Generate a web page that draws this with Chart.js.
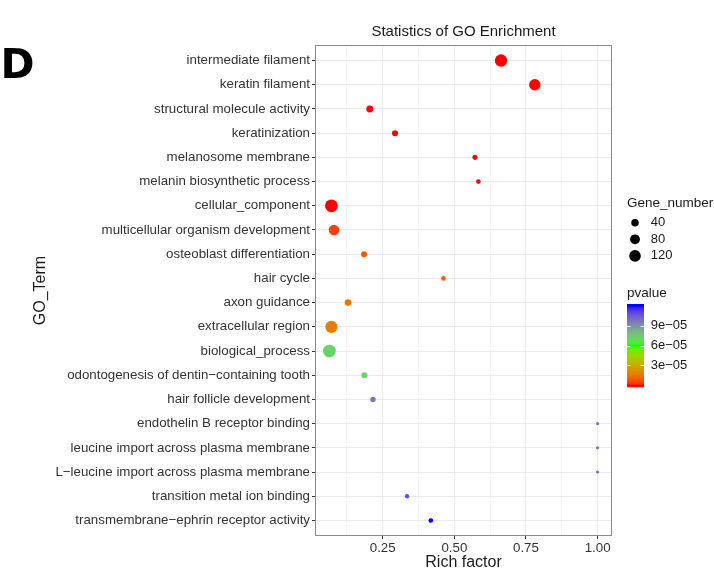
<!DOCTYPE html>
<html lang="en">
<head>
<meta charset="UTF-8">
<title>Statistics of GO Enrichment</title>
<script src="https://cdn.jsdelivr.net/npm/chart.js"></script>
<style>
  html, body { margin: 0; padding: 0; background: #ffffff; }
  #wrap { width: 714px; height: 583px; position: relative; }
</style>
</head>
<body>
<div id="wrap"><canvas id="goChart"></canvas></div>
<script>
// GO terms, top to bottom
const terms = [
  'intermediate filament',
  'keratin filament',
  'structural molecule activity',
  'keratinization',
  'melanosome membrane',
  'melanin biosynthetic process',
  'cellular_component',
  'multicellular organism development',
  'osteoblast differentiation',
  'hair cycle',
  'axon guidance',
  'extracellular region',
  'biological_process',
  'odontogenesis of dentin\u2212containing tooth',
  'hair follicle development',
  'endothelin B receptor binding',
  'leucine import across plasma membrane',
  'L\u2212leucine import across plasma membrane',
  'transition metal ion binding',
  'transmembrane\u2212ephrin receptor activity'
];
const richFactor = [0.663, 0.781, 0.205, 0.293, 0.572, 0.584, 0.071, 0.080, 0.185, 0.462,
                    0.129, 0.071, 0.064, 0.186, 0.216, 1.0, 1.0, 1.0, 0.335, 0.418];
const geneNumber = [139, 114, 33, 22, 13, 10, 149, 96, 22, 10,
                    28, 134, 149, 22, 16, 2, 2, 2, 8, 10];
const pValue = [1e-9, 2e-9, 5e-9, 8e-9, 3e-9, 4e-9, 1e-9, 5e-6, 9e-6, 1e-5,
                1.5e-5, 1.7e-5, 7.2e-5, 7.1e-5, 9.8e-5, 9.9e-5, 9.9e-5, 9.9e-5, 1.08e-4, 1.2e-4];
const xTicks = [0.25, 0.50, 0.75, 1.00];
const sizeBreaks = [40, 80, 120];
const pTicks = [3e-5, 6e-5, 9e-5];
const pTickLabels = ['3e\u221205', '6e\u221205', '9e\u221205'];

const FONT = '"Liberation Sans", Arial, Helvetica, sans-serif';

// point radius from gene number
function radius(n) { return 0.9 + 0.45 * Math.sqrt(n); }

// colour scale red -> green -> blue, interpolated in Lab like ggplot
function toLin(c) { c /= 255; return c <= 0.04045 ? c / 12.92 : Math.pow((c + 0.055) / 1.055, 2.4); }
function fromLin(c) { c = c <= 0.0031308 ? 12.92 * c : 1.055 * Math.pow(c, 1 / 2.4) - 0.055; return Math.round(Math.max(0, Math.min(1, c)) * 255); }
function rgbToLab(r, g, b) {
  r = toLin(r); g = toLin(g); b = toLin(b);
  let x = (0.4124 * r + 0.3576 * g + 0.1805 * b) / 0.95047;
  let y = (0.2126 * r + 0.7152 * g + 0.0722 * b);
  let z = (0.0193 * r + 0.1192 * g + 0.9505 * b) / 1.08883;
  const f = t => t > 0.008856 ? Math.cbrt(t) : 7.787 * t + 16 / 116;
  x = f(x); y = f(y); z = f(z);
  return [116 * y - 16, 500 * (x - y), 200 * (y - z)];
}
function labToRgb(L, a, bb) {
  let y = (L + 16) / 116, x = a / 500 + y, z = y - bb / 200;
  const fi = t => t * t * t > 0.008856 ? t * t * t : (t - 16 / 116) / 7.787;
  x = fi(x) * 0.95047; y = fi(y); z = fi(z) * 1.08883;
  const r = 3.2406 * x - 1.5372 * y - 0.4986 * z;
  const g = -0.9689 * x + 1.8758 * y + 0.0415 * z;
  const b = 0.0557 * x - 0.2040 * y + 1.0570 * z;
  return 'rgb(' + fromLin(r) + ',' + fromLin(g) + ',' + fromLin(b) + ')';
}
const stops = [rgbToLab(255, 0, 0), rgbToLab(0, 255, 0), rgbToLab(0, 0, 255)];
const pMin = Math.min(...pValue), pMax = Math.max(...pValue);
function colourAt(s) {
  s = Math.max(0, Math.min(1, s));
  const seg = s < 0.5 ? 0 : 1;
  const t = s < 0.5 ? s * 2 : (s - 0.5) * 2;
  const a = stops[seg], b = stops[seg + 1];
  return labToRgb(a[0] + (b[0] - a[0]) * t, a[1] + (b[1] - a[1]) * t, a[2] + (b[2] - a[2]) * t);
}
function pColour(p) { return colourAt((p - pMin) / (pMax - pMin)); }

// x range with 5% expansion
const xLo = Math.min(...richFactor), xHi = Math.max(...richFactor);
const xPad = (xHi - xLo) * 0.05;
const isMajor = v => xTicks.some(t => Math.abs(t - v) < 1e-6);

const points = terms.map((t, i) => ({ x: richFactor[i], y: i }));

const extras = {
  id: 'extras',
  afterDatasetsDraw(chart) {
    const { ctx, chartArea: a } = chart;
    ctx.save();
    ctx.strokeStyle = '#8a8a8a';
    ctx.lineWidth = 1;
    ctx.strokeRect(a.left - 0.5, a.top - 0.5, a.right - a.left + 1, a.bottom - a.top + 1);
    ctx.restore();
  },
  afterDraw(chart) {
    const { ctx, chartArea: a } = chart;
    ctx.save();

    // panel letter
    ctx.fillStyle = '#000';
    ctx.font = 'bold 41px "DejaVu Sans", sans-serif';
    ctx.textAlign = 'left';
    ctx.textBaseline = 'alphabetic';
    ctx.fillText('D', 0.5, 77.5);

    ctx.textBaseline = 'middle';
    // title
    ctx.font = '15px ' + FONT;
    ctx.fillStyle = '#1a1a1a';
    ctx.textAlign = 'center';
    ctx.fillText('Statistics of GO Enrichment', (a.left + a.right) / 2, 32);

    // axis titles
    ctx.font = '16px ' + FONT;
    ctx.fillText('Rich factor', (a.left + a.right) / 2, 563);
    ctx.save();
    ctx.translate(41, (a.top + a.bottom) / 2);
    ctx.rotate(-Math.PI / 2);
    ctx.fillText('GO_Term', 0, 0);
    ctx.restore();

    // size legend
    ctx.textAlign = 'left';
    ctx.font = '13.5px ' + FONT;
    ctx.fillText('Gene_number', 627, 203);
    ctx.font = '13px ' + FONT;
    sizeBreaks.forEach((b, i) => {
      const y = 222.7 + i * 16.6;
      ctx.beginPath();
      ctx.arc(635, y, radius(b), 0, Math.PI * 2);
      ctx.fillStyle = '#000';
      ctx.fill();
      ctx.fillStyle = '#1a1a1a';
      ctx.fillText(String(b), 650.7, y);
    });

    // colour bar
    ctx.font = '13.5px ' + FONT;
    ctx.fillText('pvalue', 627, 293);
    const bx = 627, bw = 17, bTop = 304, bBot = 387.3, bh = bBot - bTop;
    const inset = bh * 0.025;
    const valY = p => bBot - inset - (p - pMin) / (pMax - pMin) * (bh - 2 * inset);
    for (let y = bTop; y < bBot; y += 1) {
      const s = (bBot - inset - (y + 0.5)) / (bh - 2 * inset);
      ctx.fillStyle = colourAt(s);
      ctx.fillRect(bx, y, bw, Math.min(1, bBot - y));
    }
    ctx.strokeStyle = 'rgba(255,255,255,0.9)';
    ctx.lineWidth = 1;
    ctx.font = '13px ' + FONT;
    pTicks.forEach((p, i) => {
      const y = Math.round(valY(p)) + 0.5;
      ctx.beginPath();
      ctx.moveTo(bx, y); ctx.lineTo(bx + 3.5, y);
      ctx.moveTo(bx + bw - 3.5, y); ctx.lineTo(bx + bw, y);
      ctx.stroke();
      ctx.fillStyle = '#1a1a1a';
      ctx.fillText(pTickLabels[i], 650.7, valY(p));
    });
    ctx.restore();
  }
};

new Chart(document.getElementById('goChart'), {
  type: 'scatter',
  data: {
    datasets: [{
      data: points,
      pointRadius: c => radius(geneNumber[c.dataIndex]),
      pointHoverRadius: c => radius(geneNumber[c.dataIndex]),
      pointBackgroundColor: c => pColour(pValue[c.dataIndex]),
      pointBorderWidth: 0,
      pointBorderColor: 'rgba(0,0,0,0)'
    }]
  },
  options: {
    responsive: true,
    maintainAspectRatio: false,
    animation: false,
    events: [],
    layout: { padding: { top: 46, right: 103, bottom: 0, left: 0 } },
    plugins: { legend: { display: false }, tooltip: { enabled: false } },
    scales: {
      x: {
        type: 'linear',
        min: xLo - xPad,
        max: xHi + xPad,
        afterBuildTicks: s => {
          const t = [];
          for (let v = 0.125; v <= s.max + 1e-9; v += 0.125) if (v >= s.min) t.push({ value: v });
          s.ticks = t;
        },
        afterFit: s => { s.height = 48; },
        border: { display: false },
        grid: {
          color: c => isMajor(c.tick.value) ? '#ebebeb' : '#f5f5f5',
          lineWidth: 1,
          tickLength: 4,
          tickColor: c => isMajor(c.tick.value) ? '#333333' : 'rgba(0,0,0,0)'
        },
        ticks: {
          autoSkip: false,
          maxRotation: 0,
          padding: 1,
          color: '#333333',
          font: { family: FONT, size: 13.3 },
          callback: v => isMajor(v) ? v.toFixed(2) : ''
        }
      },
      y: {
        type: 'linear',
        reverse: true,
        min: -0.6,
        max: terms.length - 1 + 0.6,
        afterBuildTicks: s => { s.ticks = terms.map((t, i) => ({ value: i })); },
        afterFit: s => { s.width = 316; },
        border: { display: false },
        grid: { color: '#ebebeb', lineWidth: 1, tickLength: 4, tickColor: '#333333' },
        ticks: {
          autoSkip: false,
          padding: 2,
          color: '#333333',
          font: { family: FONT, size: 13.3 },
          callback: v => terms[v]
        }
      }
    }
  },
  plugins: [extras]
});
</script>
</body>
</html>
